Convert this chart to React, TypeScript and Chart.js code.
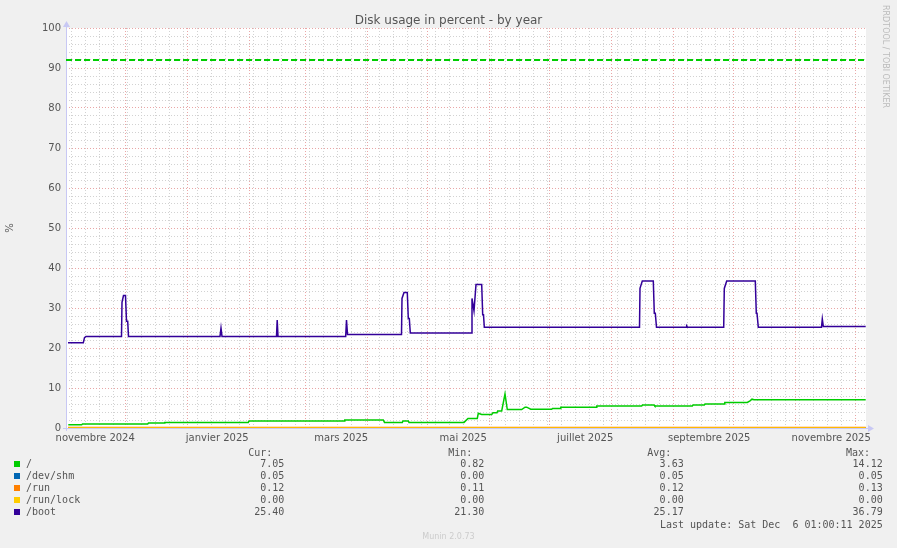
import React, { useEffect, useRef } from 'react';
import { Chart, registerables } from 'chart.js';
Chart.register(...registerables);

// x values are days since 2024-11-01 00:00 UTC
const X_MIN = 0.4;
const X_MAX = 400.4;
const START_MS = Date.UTC(2024, 10, 1);

const rootDays = [1.55, 8.25, 8.65, 41.25, 41.65, 49.4, 49.8, 91.55, 91.9, 139.4, 139.8, 159.05, 159.65, 168.55, 168.9, 171.55, 171.9, 199.4, 201.4, 206.05, 206.55, 208.25, 213.25, 213.9, 215.9, 216.25, 218.25, 219.9, 221.05, 228.25, 229.9, 230.75, 232.75, 243.25, 243.65, 247.4, 247.8, 265.4, 265.8, 288.25, 288.65, 294.4, 294.8, 313.55, 313.9, 319.55, 319.9, 329.4, 329.8, 341.05, 342.4, 343.4, 344.4, 400.25];
const rootValues = [0.82, 0.82, 1.0, 1.0, 1.25, 1.25, 1.4, 1.4, 1.75, 1.75, 2.0, 2.0, 1.4, 1.4, 1.75, 1.75, 1.4, 1.4, 2.4, 2.4, 3.7, 3.4, 3.4, 3.8, 3.8, 4.25, 4.25, 8.5, 4.6, 4.6, 5.2, 5.2, 4.7, 4.7, 4.9, 4.9, 5.2, 5.2, 5.5, 5.5, 5.75, 5.75, 5.5, 5.5, 5.75, 5.75, 6.0, 6.0, 6.4, 6.4, 6.8, 7.2, 7.05, 7.05];

const bootDays = [1.4, 9.05, 9.65, 10.4, 28.15, 28.4, 29.15, 30.15, 30.65, 31.25, 31.65, 77.4, 77.9, 78.4, 105.65, 106.0, 106.4, 140.25, 140.65, 141.15, 168.15, 168.4, 169.4, 171.05, 171.55, 172.05, 172.55, 203.15, 203.4, 204.4, 205.4, 208.25, 208.75, 209.15, 209.55, 287.15, 287.4, 288.55, 294.05, 294.55, 295.05, 295.65, 310.4, 310.75, 311.15, 329.25, 329.55, 330.75, 345.05, 345.55, 345.9, 346.55, 378.15, 378.55, 379.05, 400.25];
const bootValues = [21.3, 21.3, 22.6, 22.9, 22.9, 31.4, 33.1, 33.1, 26.7, 26.7, 22.9, 22.9, 25.0, 22.9, 22.9, 27.0, 22.9, 22.9, 27.0, 23.4, 23.4, 32.4, 33.9, 33.9, 27.4, 27.4, 23.75, 23.75, 32.4, 29.3, 35.9, 35.9, 28.3, 28.3, 25.2, 25.2, 34.9, 36.75, 36.75, 28.7, 28.7, 25.2, 25.2, 25.5, 25.2, 25.2, 34.9, 36.75, 36.75, 28.7, 28.7, 25.2, 25.2, 27.25, 25.4, 25.4];

const flatDays = [1.4, 400.25];
const shmValues = [0.05, 0.05];
const runValues = [0.12, 0.12];
const runLockValues = [0.0, 0.0];

const warningDays = [0.4, 400.4];
const warningValues = [92, 92];

const seriesNames = ['/', '/dev/shm', '/run', '/run/lock', '/boot'];
const seriesColors = ['#00cc00', '#0066b3', '#ff8000', '#ffcc00', '#330099'];
const curValues = ['7.05', '0.05', '0.12', '0.00', '25.40'];
const minValues = ['0.82', '0.00', '0.11', '0.00', '21.30'];
const avgValues = ['3.63', '0.05', '0.12', '0.00', '25.17'];
const maxValues = ['14.12', '0.05', '0.13', '0.00', '36.79'];

const xLabelDates = ['2024-11-16', '2025-01-16', '2025-03-19', '2025-05-19', '2025-07-19', '2025-09-19', '2025-11-19'];
const xLabelTexts = ['novembre 2024', 'janvier 2025', 'mars 2025', 'mai 2025', 'juillet 2025', 'septembre 2025', 'novembre 2025'];
const yLabelStep = 10;
const yGridStep = 2;

const TITLE = 'Disk usage in percent - by year';
const Y_TITLE = '%';
const LAST_UPDATE = 'Last update: Sat Dec\u00a0\u00a06 01:00:11 2025';
const SIDE_TEXT = 'RRDTOOL / TOBI OETIKER';
const FOOTER = 'Munin 2.0.73';

const dayOf = (iso: string) => (Date.parse(iso + 'T00:00:00Z') - START_MS) / 86400000;
const pts = (xs: number[], ys: number[]) => xs.map((x, i) => ({ x, y: ys[i] }));

type TickInfo = { grid: 'week' | 'month' | null; label: string };

function buildXTicks(): Map<number, TickInfo> {
  const m = new Map<number, TickInfo>();
  for (let d = 3; d <= X_MAX; d += 7) {
    if (d >= X_MIN) m.set(d, { grid: 'week', label: '' });
  }
  for (let k = 1; k <= 13; k++) {
    const d = (Date.UTC(2024, 10 + k, 1) - START_MS) / 86400000;
    if (d >= X_MIN && d <= X_MAX) m.set(d, { grid: 'month', label: '' });
  }
  xLabelDates.forEach((iso, i) => {
    const d = dayOf(iso);
    const prev = m.get(d);
    m.set(d, { grid: prev ? prev.grid : null, label: xLabelTexts[i] });
  });
  return m;
}

const RED = '#eaa6a6';
const GRAY = '#d2d2d2';
const AXIS = '#c8c8f4';

const framePlugin = {
  id: 'frame',
  beforeDraw(chart: any) {
    const { ctx, chartArea } = chart;
    ctx.save();
    ctx.fillStyle = '#ffffff';
    ctx.fillRect(chartArea.left, chartArea.top, chartArea.right - chartArea.left, chartArea.bottom - chartArea.top);
    ctx.restore();
  },
  beforeDatasetsDraw(chart: any) {
    const { ctx, chartArea } = chart;
    const { left, top, right, bottom } = chartArea;
    ctx.save();
    ctx.strokeStyle = AXIS;
    ctx.fillStyle = AXIS;
    ctx.lineWidth = 1;
    ctx.beginPath();
    ctx.moveTo(left + 0.5, bottom + 3);
    ctx.lineTo(left + 0.5, top - 2);
    ctx.moveTo(left - 3, bottom + 0.5);
    ctx.lineTo(right + 2, bottom + 0.5);
    ctx.stroke();
    ctx.beginPath();
    ctx.moveTo(left - 3, top - 1);
    ctx.lineTo(left + 4, top - 1);
    ctx.lineTo(left + 0.5, top - 7);
    ctx.closePath();
    ctx.fill();
    ctx.beginPath();
    ctx.moveTo(right + 2, bottom - 3);
    ctx.lineTo(right + 2, bottom + 4);
    ctx.lineTo(right + 8, bottom + 0.5);
    ctx.closePath();
    ctx.fill();
    ctx.restore();
  },
};

export default function App() {
  const canvasRef = useRef<HTMLCanvasElement | null>(null);

  useEffect(() => {
    const canvas = canvasRef.current;
    if (!canvas) return;
    const tickMap = buildXTicks();
    const tickValues = Array.from(tickMap.keys()).sort((a, b) => a - b);

    const line = (label: string, data: any[], color: string, order: number, extra: any = {}) => ({
      label,
      data,
      borderColor: color,
      backgroundColor: color,
      borderWidth: 1.5,
      pointRadius: 0,
      tension: 0,
      fill: false,
      order,
      ...extra,
    });

    const chart = new Chart(canvas, {
      type: 'line',
      data: {
        datasets: [
          line('warning', pts(warningDays, warningValues), '#00cc00', 6, { borderDash: [6, 3], borderWidth: 2 }),
          line(seriesNames[0], pts(rootDays, rootValues), seriesColors[0], 5),
          line(seriesNames[1], pts(flatDays, shmValues), seriesColors[1], 4),
          line(seriesNames[2], pts(flatDays, runValues), seriesColors[2], 3),
          line(seriesNames[3], pts(flatDays, runLockValues), seriesColors[3], 2),
          line(seriesNames[4], pts(bootDays, bootValues), seriesColors[4], 1),
        ],
      },
      options: {
        animation: false,
        responsive: false,
        devicePixelRatio: 1,
        parsing: false as any,
        normalized: true,
        layout: { padding: { left: 0, top: 28, right: 31, bottom: 100 } },
        plugins: {
          legend: { display: false },
          title: { display: false },
          tooltip: { enabled: false },
        },
        scales: {
          x: {
            type: 'linear',
            min: X_MIN,
            max: X_MAX,
            afterBuildTicks: (scale: any) => {
              scale.ticks = tickValues.map((v) => ({ value: v }));
            },
            afterFit: (scale: any) => {
              scale.height = 20;
            },
            ticks: {
              autoSkip: false,
              maxRotation: 0,
              minRotation: 0,
              padding: 4,
              color: '#555',
              font: { family: 'DejaVu Sans', size: 10 },
              callback: (v: any) => {
                const t = tickMap.get(Number(v));
                return t ? t.label : '';
              },
            },
            grid: {
              drawTicks: false,
              lineWidth: 1,
              color: (ctx: any) => {
                const t = ctx.tick ? tickMap.get(ctx.tick.value) : undefined;
                if (!t || !t.grid) return 'rgba(0,0,0,0)';
                return t.grid === 'month' ? RED : GRAY;
              },
            },
            border: { display: false, dash: [1, 2] },
          },
          y: {
            type: 'linear',
            min: 0,
            max: 100,
            afterFit: (scale: any) => {
              scale.width = 66;
            },
            title: {
              display: true,
              text: Y_TITLE,
              color: '#555',
              font: { family: 'DejaVu Sans', size: 10 },
              padding: 4,
            },
            ticks: {
              stepSize: yGridStep,
              autoSkip: false,
              padding: 5,
              color: '#555',
              font: { family: 'DejaVu Sans', size: 10 },
              callback: (v: any) => (Number(v) % yLabelStep === 0 ? String(v) : ''),
            },
            grid: {
              drawTicks: false,
              lineWidth: 1,
              color: (ctx: any) => {
                const v = ctx.tick ? ctx.tick.value : 1;
                return v % yLabelStep === 0 ? RED : GRAY;
              },
            },
            border: { display: false, dash: [1, 2] },
          },
        },
      },
      plugins: [framePlugin],
    } as any);

    return () => chart.destroy();
  }, []);

  const mono: React.CSSProperties = {
    position: 'absolute',
    fontFamily: '"DejaVu Sans Mono", monospace',
    fontSize: 10,
    lineHeight: '12px',
    color: '#555',
    whiteSpace: 'pre',
  };
  const colRights = [284.3, 484.3, 683.7, 882.7];
  const headRights = [272.3, 472.3, 671.3, 870];
  const heads = ['Cur:', 'Min:', 'Avg:', 'Max:'];
  const cols = [curValues, minValues, avgValues, maxValues];
  const W = 897;

  return (
    <div style={{ position: 'absolute', left: 0, top: 0, width: W, height: 548, background: '#f0f0f0', overflow: 'hidden' }}>
      <canvas ref={canvasRef} width={W} height={548} style={{ position: 'absolute', left: 0, top: 0, width: W, height: 548 }} />
      <div style={{ position: 'absolute', left: 0, width: W, top: 12, textAlign: 'center', fontFamily: '"DejaVu Sans", sans-serif', fontSize: 12, lineHeight: '16px', color: '#555' }}>{TITLE}</div>
      <div style={{ position: 'absolute', left: 879, top: 5, writingMode: 'vertical-rl', fontFamily: '"DejaVu Sans", sans-serif', fontSize: 8, lineHeight: '12px', color: '#bbb', whiteSpace: 'pre' }}>{SIDE_TEXT}</div>
      {heads.map((h, j) => (
        <div key={'h' + j} style={{ ...mono, right: W - headRights[j], top: 452.7 - 6 }}>{h}</div>
      ))}
      {seriesNames.map((name, i) => {
        const cy = 464.3 + 12 * i;
        return (
          <React.Fragment key={name}>
            <div style={{ position: 'absolute', left: 14, top: cy - 3, width: 6, height: 6, background: seriesColors[i] }} />
            <div style={{ ...mono, left: 26, top: cy - 6 }}>{name}</div>
            {cols.map((c, j) => (
              <div key={j} style={{ ...mono, right: W - colRights[j], top: cy - 6 }}>{c[i]}</div>
            ))}
          </React.Fragment>
        );
      })}
      <div style={{ ...mono, right: W - 882.7, top: 524.7 - 6 }}>{LAST_UPDATE}</div>
      <div style={{ position: 'absolute', left: 0, width: W, top: 537 - 6, textAlign: 'center', fontFamily: '"DejaVu Sans", sans-serif', fontSize: 8, lineHeight: '12px', color: '#ccc' }}>{FOOTER}</div>
    </div>
  );
}
